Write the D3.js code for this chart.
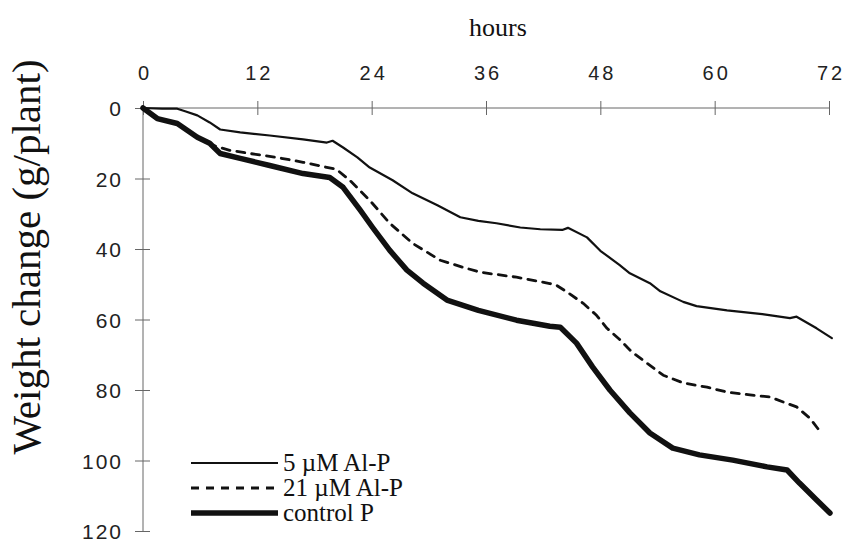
<!DOCTYPE html>
<html>
<head>
<meta charset="utf-8">
<script src="https://cdn.jsdelivr.net/npm/d3@7"></script>
<style>
  body { margin: 0; background: #fff; }
  svg { display: block; }
</style>
</head>
<body>
<div id="chart"></div>
<script>
// Data
var hourTicks = [0, 12, 24, 36, 48, 60, 72];
var weightTicks = [0, 20, 40, 60, 80, 100, 120];

var seriesNames = ["5 \u00b5M Al-P", "21 \u00b5M Al-P", "control P"];

var hoursAl5 = [0, 2, 3.6, 4.5, 5.7, 7, 8.1, 10.2, 13.3, 16.8, 19.3, 19.9, 21, 22.5, 23.8, 26.2, 28.3, 30.9, 33.3, 35.2, 37.1, 39.6, 41.7, 44, 44.6, 46.6, 48, 50, 51.1, 53.2, 54.3, 56.7, 58.1, 61.3, 65, 67.9, 68.6, 70.7, 72.3];
var weightAl5 = [0, 0.2, 0.2, 1, 2.1, 4.1, 6.1, 6.9, 7.8, 8.9, 9.8, 9.3, 11.2, 14, 16.9, 20.5, 24.2, 27.6, 31, 32, 32.7, 33.9, 34.4, 34.6, 34, 36.7, 40.5, 44.5, 46.9, 49.7, 52, 55, 56.2, 57.4, 58.5, 59.6, 59.2, 62.5, 65.3];

var hoursAl21 = [0, 1.5, 3.6, 5.7, 7.3, 9.1, 11.2, 14, 16.8, 20.3, 21.7, 23.8, 25.9, 28.3, 31.2, 33.6, 35.4, 39.2, 42.7, 43.4, 44.5, 46.2, 47.6, 48.7, 50, 51.3, 52.9, 54.6, 56.7, 59.2, 61.3, 63.7, 65.8, 67.2, 68.6, 70, 71.1];
var weightAl21 = [0, 3, 4.4, 8.3, 10.6, 12, 12.9, 14, 15.4, 17.4, 20.5, 26.2, 32.7, 38.4, 43.2, 45.2, 46.6, 48, 49.8, 50.3, 52.2, 55.4, 58.8, 62.5, 65.6, 69.2, 72.4, 75.8, 78, 79.2, 80.6, 81.4, 82, 83.4, 84.8, 88, 91.9];

var hoursControl = [0, 1.5, 3.6, 5.7, 7, 8.1, 10.2, 13.3, 16.8, 19.6, 21, 22.8, 24.1, 25.9, 27.7, 29.4, 31.9, 35.2, 39.2, 42.7, 43.8, 45.5, 47.2, 49, 51.1, 53.2, 55.6, 58.4, 61.9, 65.5, 67.6, 68.9, 70.7, 72.1];
var weightControl = [0, 3, 4.4, 8.3, 10, 12.9, 14.3, 16.3, 18.6, 19.7, 22.5, 29, 33.9, 40.4, 46, 49.7, 54.5, 57.4, 60.2, 61.9, 62.2, 66.7, 73.5, 80, 86.5, 92.2, 96.5, 98.4, 99.9, 101.8, 102.7, 106.4, 111.2, 114.9];

// Size
var width = 845;
var height = 543;

// Plot edges
var plotLeft = 143;
var plotRight = 829;
var plotTop = 108;
var plotBottom = 531;

var serif = "'Liberation Serif', 'Times New Roman', serif";
var sans = "'Liberation Sans', Arial, sans-serif";

var svg = d3.select("#chart")
  .append("svg")
  .attr("width", width)
  .attr("height", height);

var xScale = d3.scaleLinear().domain([0, 72]).range([plotLeft, plotRight]);
var yScale = d3.scaleLinear().domain([0, 120]).range([plotTop, plotBottom]);

// top axis
var xAxis = d3.axisTop(xScale)
  .tickValues(hourTicks)
  .tickSize(7)
  .tickPadding(21);

var gx = svg.append("g")
  .attr("transform", "translate(0," + plotTop + ")")
  .call(xAxis);

// left axis
var yAxis = d3.axisLeft(yScale)
  .tickValues(weightTicks)
  .tickSize(8)
  .tickPadding(12);

var gy = svg.append("g")
  .attr("transform", "translate(" + plotLeft + ",0)")
  .call(yAxis);

// ticks cross the axis line
gx.selectAll(".tick line").attr("y1", 7);
gy.selectAll(".tick line").attr("x1", 7);

gx.select(".domain").attr("d", "M" + plotLeft + ",0H" + plotRight);
gy.select(".domain").attr("d", "M0," + plotTop + "V" + plotBottom);

svg.selectAll(".domain, .tick line")
  .attr("stroke", "#666")
  .attr("stroke-width", 1);

gx.selectAll(".tick text")
  .attr("font-family", sans)
  .attr("font-size", "20px")
  .attr("letter-spacing", "3px")
  .attr("dx", "1.5px")
  .attr("fill", "#222");

gy.selectAll(".tick text")
  .attr("font-family", sans)
  .attr("font-size", "21px")
  .attr("letter-spacing", "2px")
  .attr("dy", "0.36em")
  .attr("fill", "#222");

// lines
var line = d3.line()
  .x(function(d) { return xScale(d[0]); })
  .y(function(d) { return yScale(d[1]); });

function pairs(xs, ys) {
  return xs.map(function(x, i) { return [x, ys[i]]; });
}

var series = [
  { name: seriesNames[0], pts: pairs(hoursAl5, weightAl5), w: 2.2, dash: null },
  { name: seriesNames[1], pts: pairs(hoursAl21, weightAl21), w: 2.8, dash: "8,7" },
  { name: seriesNames[2], pts: pairs(hoursControl, weightControl), w: 5.5, dash: null }
];

series.forEach(function(s) {
  svg.append("path")
    .attr("d", line(s.pts))
    .attr("fill", "none")
    .attr("stroke", "#111")
    .attr("stroke-width", s.w)
    .attr("stroke-linejoin", "round")
    .attr("stroke-linecap", "round")
    .attr("stroke-dasharray", s.dash);
});

// legend
var legend = svg.append("g");
series.forEach(function(s, i) {
  var yy = 463 + i * 25;
  legend.append("line")
    .attr("x1", 191).attr("x2", 278)
    .attr("y1", yy).attr("y2", yy)
    .attr("stroke", "#111")
    .attr("stroke-width", s.w)
    .attr("stroke-dasharray", s.dash);
  legend.append("text")
    .attr("x", 283)
    .attr("y", yy + 8)
    .attr("font-family", serif)
    .attr("font-size", "25px")
    .attr("fill", "#111")
    .text(s.name);
});

// axis titles
svg.append("text")
  .attr("x", 498)
  .attr("y", 36)
  .attr("text-anchor", "middle")
  .attr("font-family", serif)
  .attr("font-size", "26px")
  .attr("fill", "#111")
  .text("hours");

svg.append("text")
  .attr("transform", "translate(40,257) rotate(-90)")
  .attr("text-anchor", "middle")
  .attr("font-family", serif)
  .attr("font-size", "41px")
  .attr("fill", "#111")
  .text("Weight change (g/plant)");
</script>
</body>
</html>
